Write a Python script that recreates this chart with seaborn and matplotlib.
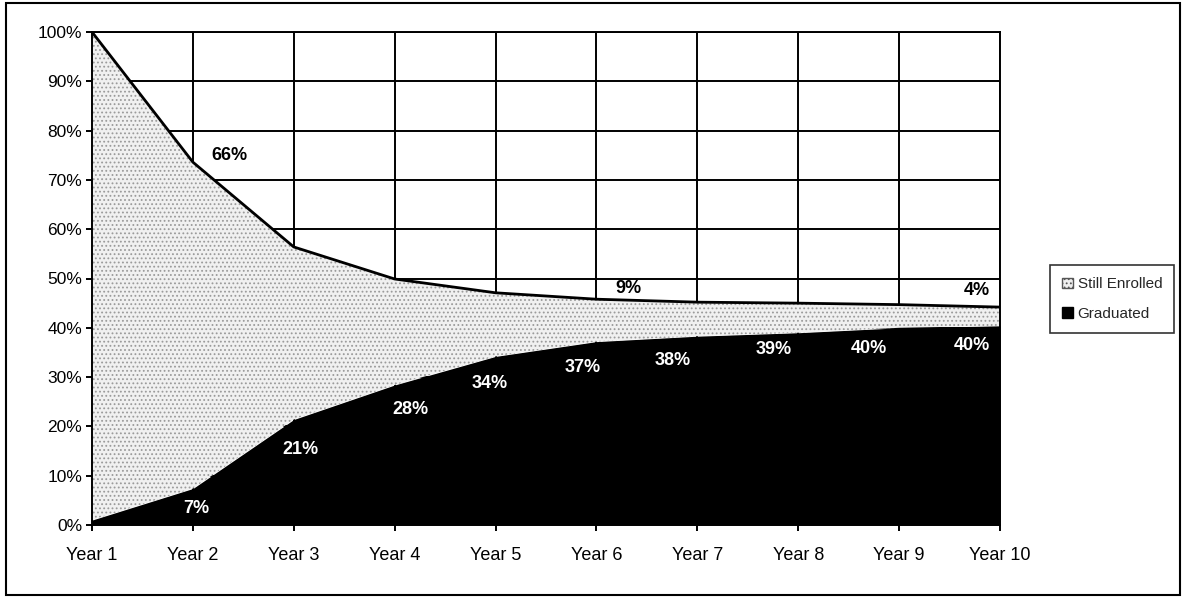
import numpy as np
import pandas as pd
import matplotlib
matplotlib.use("Agg")
import matplotlib.pyplot as plt
import matplotlib.patches as mpatches
import seaborn as sns

# ---- data ----
years = ["Year 1", "Year 2", "Year 3", "Year 4", "Year 5",
         "Year 6", "Year 7", "Year 8", "Year 9", "Year 10"]
graduated = [1.0, 7.4, 21.4, 28.4, 34.2, 37.2, 38.3, 39.0, 40.0, 40.4]
still_enrolled = [99.0, 66.2, 35.0, 21.5, 12.9, 8.6, 6.9, 6.0, 4.7, 3.8]
grad_label_years = [1, 2, 3, 4, 5, 6, 7, 8, 9]      # indices with labels
enrolled_label_years = [1, 5, 9]
y_ticks = [0, 10, 20, 30, 40, 50, 60, 70, 80, 90, 100]

# label offsets in pixels (dx, dy) relative to the data point
grad_offsets = [(3, -20), (7, -30), (16, -25), (-6, -27), (-14, -26),
                (-25, -24), (-25, -17), (-30, -21), (-28, -20)]
enr_offsets = [(37, 7), (32, 11), (-23, 17)]

sns.set_theme(style="white")
plt.rcParams['font.family'] = ['Liberation Sans', 'DejaVu Sans']

df = pd.DataFrame({"x": np.arange(len(years)),
                   "Graduated": graduated,
                   "Still Enrolled": still_enrolled})
df["top"] = df["Graduated"] + df["Still Enrolled"]

fig = plt.figure(figsize=(11.85, 5.98), dpi=100)
ax = fig.add_axes([92/1185, 73/598, 908/1185, 493/598])

# grid
ax.set_axisbelow(True)
for t in y_ticks:
    ax.axhline(t, color="black", lw=1.4, zorder=0)
for i in range(len(years)):
    ax.axvline(i, color="black", lw=1.4, zorder=0)

plt.rcParams['hatch.color'] = '#8a8a8a'
plt.rcParams['hatch.linewidth'] = 0.8
ax.fill_between(df["x"], 0, df["Graduated"], color="black", lw=0, zorder=2)
ax.fill_between(df["x"], df["Graduated"], df["top"], facecolor="#f0f0f0",
                hatch="....", edgecolor="#9a9a9a", lw=0, zorder=2)
sns.lineplot(data=df, x="x", y="top", color="black", lw=2, ax=ax,
             zorder=3, legend=False)

ax.set_xlim(0, len(years) - 1)
ax.set_ylim(0, 100)
ax.set_xticks(df["x"])
ax.set_xticklabels(years, fontsize=13)
ax.set_yticks(y_ticks)
ax.set_yticklabels([f"{t}%" for t in y_ticks], fontsize=12.5)
ax.set_xlabel("")
ax.set_ylabel("")
ax.tick_params(axis="both", length=4, width=1.4, color="black", direction="out",
               bottom=True, left=True, labelcolor="black")
ax.tick_params(axis="x", pad=12)
ax.tick_params(axis="y", pad=3)
for s in ["left", "bottom", "top", "right"]:
    ax.spines[s].set_color("black")
    ax.spines[s].set_linewidth(1.4)
    ax.spines[s].set_zorder(4)

# data labels
for k, i in enumerate(grad_label_years):
    v = graduated[i]
    ax.annotate(f"{v:.0f}%", (i, v), xytext=grad_offsets[k],
                textcoords="offset pixels", ha="center", va="center",
                color="white", fontsize=13, fontweight="bold", zorder=5)
for k, i in enumerate(enrolled_label_years):
    ax.annotate(f"{still_enrolled[i]:.0f}%", (i, df["top"][i]),
                xytext=enr_offsets[k], textcoords="offset pixels",
                ha="center", va="center", color="black", fontsize=13,
                fontweight="bold", zorder=5)

# legend
h1 = mpatches.Patch(facecolor="#eeeeee", hatch="....", edgecolor="#555555",
                    label="Still Enrolled")
h2 = mpatches.Patch(facecolor="black", edgecolor="black", label="Graduated")
leg = fig.legend(handles=[h1, h2], loc="center left",
                 bbox_to_anchor=(1050/1185, 299/598), frameon=True,
                 fancybox=False, edgecolor="black", fontsize=11,
                 handlelength=0.7, handleheight=0.7, handletextpad=0.3,
                 borderpad=0.8, labelspacing=1.0, borderaxespad=0)
leg.get_frame().set_linewidth(1.2)

# figure border
fig.patches.append(mpatches.Rectangle((6/1185, 3/598), 1174/1185, 592/598,
                                      transform=fig.transFigure, fill=False,
                                      edgecolor="black", lw=1.5))

fig.savefig("out.png", dpi=100)
